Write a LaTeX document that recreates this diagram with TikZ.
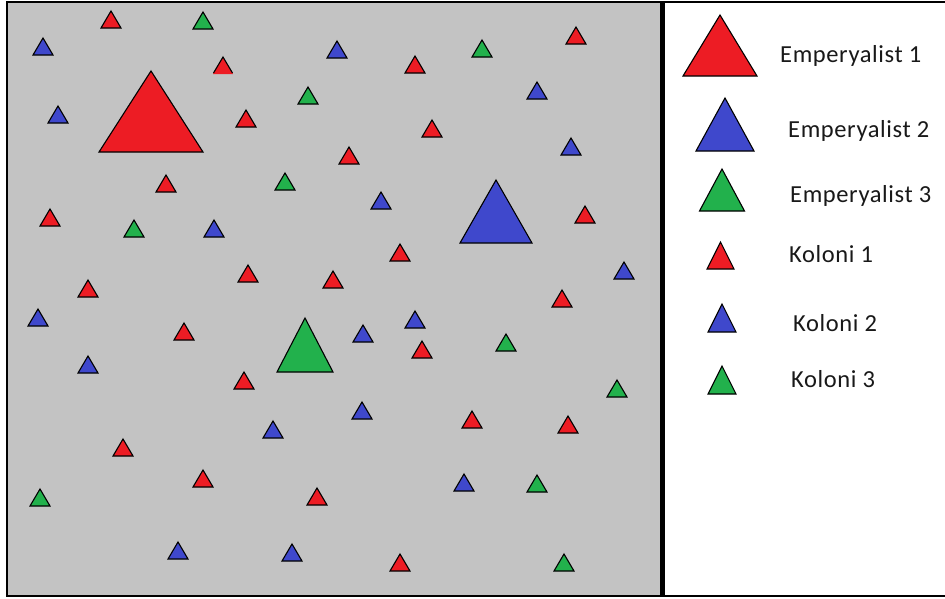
\documentclass[tikz,border=0pt]{standalone}
\usepackage{fontspec}
\setmainfont{Carlito}
\newfontfamily\lblfont[LetterSpace=2.5]{Carlito}
\definecolor{pred}{RGB}{237,28,36}
\definecolor{pblue}{RGB}{63,72,204}
\definecolor{pgreen}{RGB}{34,177,76}
\definecolor{pgray}{RGB}{195,195,195}
\definecolor{ink}{RGB}{25,25,25}
\tikzset{
  tri/.style={draw=black, line width=1.1pt, line join=miter},
  lbl/.style={anchor=base west, inner sep=0pt, text=ink, font=\lblfont\fontsize{24.5}{28}\selectfont},
}
% \ptri{x}{ybase}{halfwidth}{height}{colour}
\newcommand{\ptri}[5]{%
  \filldraw[tri, fill=#5] ({#1-#3},{-#2}) -- (#1,{-(#2-#4)}) -- ({#1+#3},{-#2}) -- cycle;}
\begin{document}
\begin{tikzpicture}[x=1pt,y=1pt]
\useasboundingbox (0,0) rectangle (945,-598);
\fill[white] (0,0) rectangle (945,-598);
\fill[pgray] (7,-1) rectangle (661,-596);
% frame
\draw[line width=2pt] (6,-1.5) -- (945,-1.5);
\draw[line width=1.8pt] (6,-596) -- (945,-596);
\draw[line width=2pt] (7,-1) -- (7,-597);
\draw[line width=4.5pt] (662.5,-1) -- (662.5,-597);
% big triangles (emperyalists)
\ptri{151}{152}{52}{81}{pred}
\ptri{496}{243}{36}{63}{pblue}
\ptri{305}{372}{28}{54}{pgreen}
% small red colonies
\foreach \x/\y in {111/28, 415/73, 576/44, 246/127, 432/137, 349/164, 166/192,
  50/226, 585/223, 400/261, 248/282, 333/288, 88/297, 562/307, 184/340,
  422/358, 244/389, 472/428, 568/433, 123/456, 203/487, 317/505, 400/571}
  {\ptri{\x}{\y}{10}{17}{pred}}
% red colony with no dark base
\fill[pred] (213,-74) -- (223,-57) -- (233,-74) -- cycle;
\draw[line width=1.1pt] (213.5,-73) -- (223,-57) -- (232.5,-73);
% small blue colonies
\foreach \x/\y in {43/55, 337/58, 537/99, 58/123, 571/155, 381/209, 214/237,
  624/279, 38/326, 415/328, 363/342, 88/373, 362/419, 273/438, 464/491,
  178/559, 292/561}
  {\ptri{\x}{\y}{10}{17}{pblue}}
% small green colonies
\foreach \x/\y in {203/29, 482/57, 308/104, 285/190, 134/237, 506/351,
  617/397, 40/506, 537/492, 564/571}
  {\ptri{\x}{\y}{10}{17}{pgreen}}
% legend
\ptri{720}{76}{37}{61}{pred}
\ptri{725}{151}{29}{53}{pblue}
\ptri{722}{211}{22.5}{42}{pgreen}
\ptri{720.5}{269}{13.5}{27}{pred}
\ptri{722}{332}{14}{28}{pblue}
\ptri{722}{394}{14}{28}{pgreen}
\node[lbl] (e1) at (780,-62) {Emperyalist 1};
\node[lbl] (e2) at (788,-137) {Emperyalist 2};
\node[lbl] (e3) at (790,-202) {Emperyalist 3};
\node[lbl] (k1) at (789,-262) {Koloni 1};
\node[lbl] (k2) at (793,-331) {Koloni 2};
\node[lbl] (k3) at (791,-387) {Koloni 3};
\end{tikzpicture}
\end{document}
